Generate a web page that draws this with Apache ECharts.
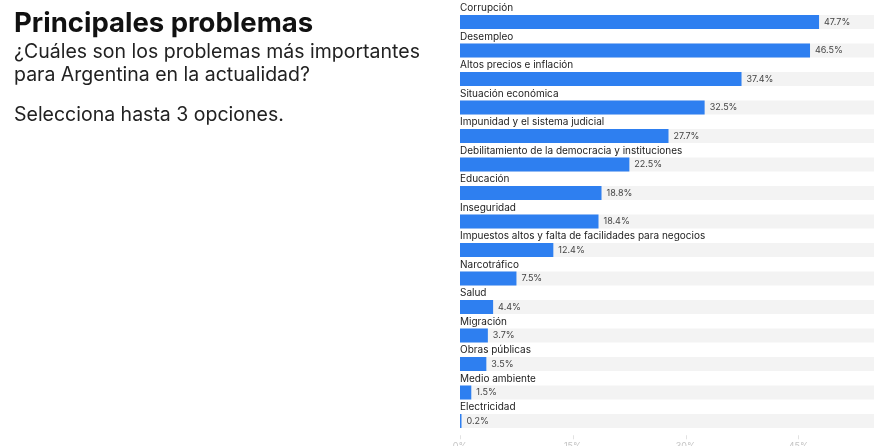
<!DOCTYPE html>
<html>
<head>
<meta charset="utf-8">
<script src="https://cdn.jsdelivr.net/npm/echarts@6/dist/echarts.min.js"></script>
<style>
  html, body { margin: 0; padding: 0; background: #fff; }
  #chart { width: 874px; height: 446px; }
</style>
</head>
<body>
<div id="chart"></div>
<script>
var categories = [
  'Corrupción',
  'Desempleo',
  'Altos precios e inflación',
  'Situación económica',
  'Impunidad y el sistema judicial',
  'Debilitamiento de la democracia y instituciones',
  'Educación',
  'Inseguridad',
  'Impuestos altos y falta de facilidades para negocios',
  'Narcotráfico',
  'Salud',
  'Migración',
  'Obras públicas',
  'Medio ambiente',
  'Electricidad'
];
var values = [47.7, 46.5, 37.4, 32.5, 27.7, 22.5, 18.8, 18.4, 12.4, 7.5, 4.4, 3.7, 3.5, 1.5, 0.2];
var xTicks = [0, 15, 30, 45];

var titleText = 'Principales problemas';
var subLines = ['¿Cuáles son los problemas más importantes', 'para Argentina en la actualidad?'];
var noteText = 'Selecciona hasta 3 opciones.';

var font = 'Inter, "Noto Sans", sans-serif';
var chart = echarts.init(document.getElementById('chart'));

var option = {
  backgroundColor: '#fff',
  animation: false,
  graphic: [
    { type: 'text', left: 14, top: 10, style: { text: titleText, font: 'bold 27.5px ' + font, fill: '#111' } },
    { type: 'text', left: 14, top: 41, style: { text: subLines.join('\n'), font: '19.5px ' + font, lineHeight: 23, fill: '#222' } },
    { type: 'text', left: 14, top: 105, style: { text: noteText, font: '19.5px ' + font, fill: '#222' } }
  ],
  grid: { left: 460, right: 0, top: 7.75, bottom: 10.75, containLabel: false, outerBoundsMode: 'none' },
  xAxis: {
    type: 'value',
    min: 0,
    max: 55,
    interval: 15,
    splitLine: { show: false },
    axisLine: { show: false },
    axisTick: { show: true, length: 4, lineStyle: { color: '#e2e2e2' } },
    axisLabel: {
      margin: 7,
      fontSize: 9,
      fontFamily: font,
      color: '#c4c4c4',
      showMaxLabel: false,
      formatter: function (v) { return xTicks.indexOf(v) >= 0 ? v + '%' : ''; }
    }
  },
  yAxis: {
    type: 'category',
    data: categories,
    inverse: true,
    axisLine: { show: false },
    axisTick: { show: false },
    axisLabel: {
      inside: true,
      margin: 0,
      align: 'left',
      verticalAlign: 'bottom',
      padding: [0, 0, 9, 0],
      fontSize: 10,
      fontFamily: font,
      color: '#222'
    }
  },
  series: [{
    type: 'bar',
    data: values,
    barWidth: 14,
    itemStyle: { color: '#2e7ff0' },
    showBackground: true,
    backgroundStyle: { color: '#f3f3f3' },
    label: {
      show: true,
      position: 'right',
      distance: 5,
      fontSize: 9,
      fontFamily: font,
      color: '#444',
      formatter: function (p) { return p.value.toFixed(1) + '%'; }
    }
  }]
};
chart.setOption(option);
</script>
</body>
</html>
